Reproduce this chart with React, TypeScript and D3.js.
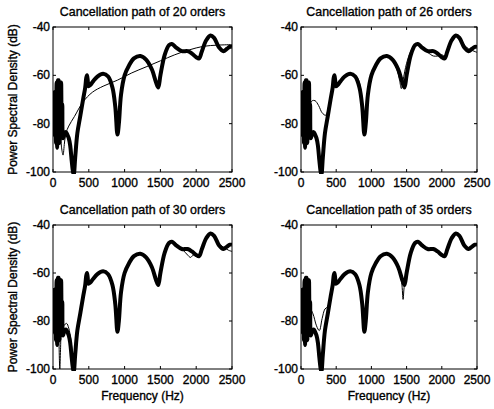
import * as d3 from 'd3';

// measured path (thick) - same in every panel
const measFreq = [0, 10, 18, 26, 34, 42, 50, 58, 66, 74, 82, 90, 98, 106, 114, 122, 130, 140, 160, 180, 200, 220, 240, 260, 280, 290, 310, 340, 380, 420, 450, 465, 475, 485, 495, 520, 560, 620, 700, 770, 830, 870, 900, 920, 950, 1000, 1060, 1130, 1220, 1300, 1380, 1440, 1470, 1500, 1560, 1620, 1660, 1720, 1800, 1880, 1940, 2000, 2040, 2080, 2140, 2200, 2250, 2320, 2380, 2430, 2470, 2500];
const measPsd = [-68, -82, -67, -85, -68, -88, -63, -90, -62, -85, -62, -88, -64, -86, -63, -84, -72, -86, -84, -83.5, -84.5, -86, -89, -95, -100, -101, -94, -84, -77, -70, -65, -61, -60, -62, -64.5, -64, -62.5, -60.5, -59.3, -60.5, -65, -73, -84.5, -80, -68, -60, -56, -53, -52, -53.5, -57.5, -63, -65, -60, -51.5, -47.5, -47, -48.5, -50, -50, -51, -52.5, -53, -50, -45.5, -43.5, -44.5, -48.5, -50, -49, -48.2, -48.3];

// model paths (thin), one per order
const freq20 = [60, 80, 100, 120, 140, 160, 180, 220, 300, 420, 550, 700, 900, 1100, 1300, 1500, 1700, 1900, 2100, 2300, 2500];
const psd20 = [-78, -86, -84, -90, -93, -88, -84, -81, -77, -71, -67, -64.5, -62, -59, -56.5, -54, -51.5, -49.5, -48, -47.5, -47.3];

const freq26 = [110, 130, 160, 200, 250, 300, 350, 400, 450, 470, 490, 520, 600, 700, 800, 860, 890, 905, 930, 980, 1050, 1130, 1220, 1300, 1360, 1400, 1425, 1450, 1500, 1560, 1620, 1660, 1720, 1800, 1880, 1940, 2000, 2040, 2080, 2140, 2200, 2250, 2320, 2380, 2440, 2500];
const psd26 = [-76, -72, -70.5, -70.5, -72.5, -75.5, -76.5, -72, -66, -63, -63.5, -63, -61, -59.3, -61, -68, -78, -84, -76, -63, -56.5, -53, -52, -53.5, -57.5, -62, -65.5, -62, -55, -50, -47.5, -47.3, -48.5, -50.5, -52, -52, -51.5, -52, -49.5, -45.5, -43.5, -44.5, -47.5, -49, -49.8, -50.5];

const freq30 = [60, 80, 95, 105, 120, 150, 190, 220, 250, 280, 300, 330, 380, 420, 460, 480, 500, 560, 700, 830, 870, 900, 920, 950, 1000, 1130, 1220, 1380, 1440, 1470, 1500, 1560, 1660, 1800, 1880, 1920, 1960, 2000, 2040, 2080, 2140, 2200, 2320, 2400, 2450, 2500];
const psd30 = [-70, -85, -100, -92, -84, -82, -81, -83, -88, -96, -100, -87, -77, -70, -64, -62, -64, -62.5, -59.5, -65, -73, -84, -80, -68, -60, -53, -52, -57.5, -63, -64.5, -60, -51.5, -47, -50, -52.5, -53.5, -52.5, -52.5, -53, -50, -45.5, -43.5, -48, -49.5, -50.5, -51];

const freq35 = [100, 130, 170, 220, 260, 300, 340, 380, 420, 460, 480, 500, 560, 700, 830, 870, 900, 920, 950, 1000, 1130, 1220, 1380, 1430, 1450, 1465, 1500, 1560, 1660, 1800, 1880, 1940, 2000, 2040, 2080, 2140, 2200, 2320, 2380, 2440, 2500];
const psd35 = [-80, -75, -77, -82, -84, -79, -75, -74, -70, -65, -62, -64, -62.5, -59.5, -65, -73, -84, -80, -68, -60, -53, -52, -57.5, -64, -71, -66, -60, -51.5, -47, -50, -50, -51, -52.5, -53, -50, -45.5, -43.5, -48.5, -50, -49, -48.3];

const orders = [20, 26, 30, 35];
const xTicks = [0, 500, 1000, 1500, 2000, 2500];
const yTicks = [-40, -60, -80, -100];

const FONT = "'Liberation Sans', Arial, sans-serif";
// scanned print looks heavier, so give text a hairline outline
const txt = { fontFamily: FONT, fontSize: 12, stroke: '#000', strokeWidth: 0.35, fill: '#000' };

type PanelProps = {
  id: string;
  title: string;
  thinF: number[];
  thinV: number[];
  left: number;
  top: number;
  width: number;
  height: number;
  yLabel: boolean;
  xLabel: boolean;
};

function Panel({ id, title, thinF, thinV, left, top, width, height, yLabel, xLabel }: PanelProps) {
  const x = d3.scaleLinear().domain([0, 2500]).range([left, left + width]);
  const y = d3.scaleLinear().domain([-100, -40]).range([top + height, top]);

  const mkLine = (f: number[]) =>
    d3.line<number>()
      .x((_, i) => x(f[i]))
      .y((d) => y(d))
      .curve(d3.curveCatmullRom.alpha(0.5));

  const tick = 3;

  return (
    <g>
      <defs>
        <clipPath id={id}>
          <rect x={left} y={top} width={width} height={height + 2} />
        </clipPath>
      </defs>
      <text x={left + width / 2} y={top - 11} textAnchor="middle" {...txt} fontSize={12.4}>
        {title}
      </text>
      <g clipPath={`url(#${id})`}>
        <path d={mkLine(measFreq)(measPsd) || ''} fill="none" stroke="#000" strokeWidth={4} strokeLinejoin="round" />
        <path d={mkLine(thinF)(thinV) || ''} fill="none" stroke="#000" strokeWidth={1} />
      </g>
      <rect x={left} y={top} width={width} height={height} fill="none" stroke="#000" strokeWidth={1} />
      {xTicks.map((t) => (
        <g key={'x' + t}>
          <line x1={x(t)} x2={x(t)} y1={top + height} y2={top + height - tick} stroke="#000" />
          <line x1={x(t)} x2={x(t)} y1={top} y2={top + tick} stroke="#000" />
          <text x={x(t)} y={top + height + 15} textAnchor="middle" {...txt}>
            {t}
          </text>
        </g>
      ))}
      {yTicks.map((t) => (
        <g key={'y' + t}>
          <line x1={left} x2={left + tick} y1={y(t)} y2={y(t)} stroke="#000" />
          <line x1={left + width} x2={left + width - tick} y1={y(t)} y2={y(t)} stroke="#000" />
          <text x={left - 3} y={y(t) + 4} textAnchor="end" {...txt}>
            {t}
          </text>
        </g>
      ))}
      {yLabel && (
        <text transform={`translate(17,${top + height / 2}) rotate(-90)`} textAnchor="middle" {...txt}>
          Power Spectral Density (dB)
        </text>
      )}
      {xLabel && (
        <text x={left + width / 2} y={top + height + 31} textAnchor="middle" {...txt}>
          Frequency (Hz)
        </text>
      )}
    </g>
  );
}

export default function App() {
  const thin = [
    [freq20, psd20],
    [freq26, psd26],
    [freq30, psd30],
    [freq35, psd35],
  ];
  const lefts = [53, 301];
  const widths = [179, 176];
  const tops = [27, 225];
  const heights = [145, 144];

  return (
    <div style={{ position: 'fixed', left: 0, top: 0 }}>
      <svg width={494} height={409} style={{ display: 'block', background: '#fff' }}>
        {orders.map((o, i) => {
          const c = i % 2;
          const r = Math.floor(i / 2);
          return (
            <Panel
              key={o}
              id={'clip' + i}
              title={`Cancellation path of ${o} orders`}
              thinF={thin[i][0]}
              thinV={thin[i][1]}
              left={lefts[c]}
              top={tops[r]}
              width={widths[c]}
              height={heights[r]}
              yLabel={c === 0}
              xLabel={r === 1}
            />
          );
        })}
      </svg>
    </div>
  );
}
